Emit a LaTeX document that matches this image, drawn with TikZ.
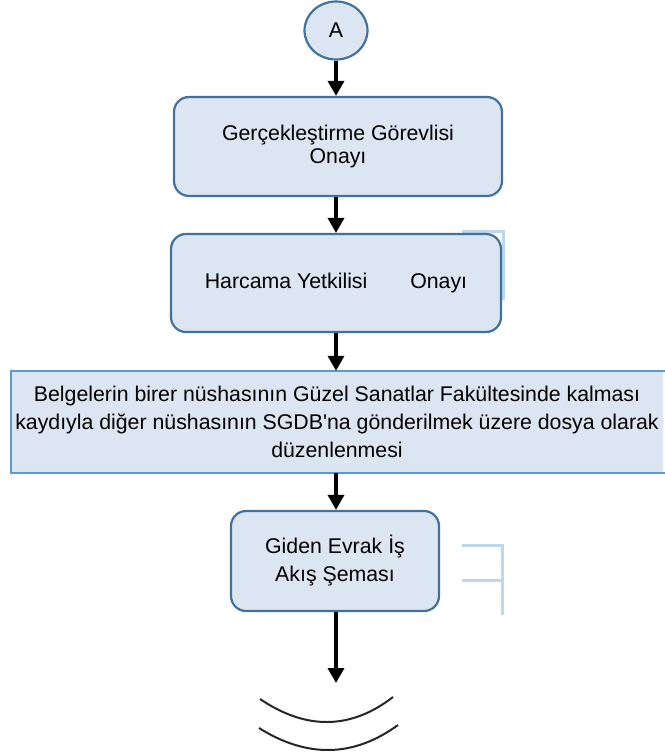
\documentclass[tikz,border=0pt]{standalone}
\usepackage{fontspec}
\setmainfont{Liberation Sans}
\usetikzlibrary{arrows.meta,shapes.geometric}
\definecolor{boxfill}{HTML}{DCE6F2}
\definecolor{boxline}{HTML}{41719C}
\definecolor{sqline}{HTML}{5B9BD5}
\definecolor{ghost}{HTML}{BDD7EE}
\begin{document}
\begin{tikzpicture}[x=1pt,y=-1pt,
  flow/.style={-{Triangle[width=16pt,length=15pt]}, line width=3.5pt, black},
  rbox/.style={draw=boxline, line width=2.2pt, fill=boxfill, rounded corners=15pt,
    inner sep=0pt, align=center, font=\fontsize{21.3}{23}\selectfont},
  sqbox/.style={fill=boxfill, inner sep=0pt, align=center,
    font=\fontsize{21.3}{28}\selectfont},
  sqborder/.style={draw=sqline, line width=2pt},
  ghostline/.style={draw=ghost, line width=3pt},
  termarc/.style={draw=black!85, line width=2pt},
  conn/.style={ellipse, draw=boxline, line width=2.2pt, fill=boxfill, inner sep=0pt,
    minimum width=63pt, minimum height=58pt, font=\fontsize{21.3}{23}\selectfont}]
\useasboundingbox (0,0) rectangle (664,755);

% faint light-blue lines behind boxes
\draw[ghostline] (462,231) -- (503.5,231) -- (503.5,300);
\draw[ghostline] (462,545) -- (502.5,545) -- (502.5,615);
\draw[ghostline] (462,580) -- (502.5,580);

\node[conn] (A) at (336,30.5) {A};

\node[rbox, minimum width=328pt, minimum height=99pt] (box1) at (338,146.5)
  {Gerçekleştirme Görevlisi\\Onayı};

\node[rbox, minimum width=330pt, minimum height=98pt] (box2) at (336,283)
  {Harcama Yetkilisi\hspace{43pt}Onayı};

\node[sqbox, minimum width=652pt, minimum height=102pt] (box3) at (337,422)
  {Belgelerin birer nüshasının Güzel Sanatlar Fakültesinde kalması\\
   kaydıyla diğer nüshasının SGDB\textquotesingle na gönderilmek üzere dosya olarak\\
   düzenlenmesi};
\draw[sqborder] ([xshift=8pt]box3.north east) -- (box3.north west)
  -- (box3.south west) -- ([xshift=8pt]box3.south east);

\node[rbox, minimum width=208pt, minimum height=100pt,
  font=\fontsize{21.3}{28}\selectfont] (box4) at (335,561)
  {Giden Evrak İş\\Akış Şeması};

\coordinate (end) at (336,683);

\draw[flow] (A.south) -- (A.south |- box1.north);
\draw[flow] (box1.south -| A) -- (box2.north -| A);
\draw[flow] (box2.south -| A) -- (box3.north -| A);
\draw[flow] (box3.south -| A) -- (box4.north -| A);
\draw[flow] (box4.south -| A) -- (end);

% off-page terminator arcs
\draw[termarc] (260,699) .. controls (306.3,730.3) and (350.7,729.7) .. (393,697);
\draw[termarc] (259,728) .. controls (307.3,758.3) and (353.7,757.3) .. (398,725);
\end{tikzpicture}
\end{document}
